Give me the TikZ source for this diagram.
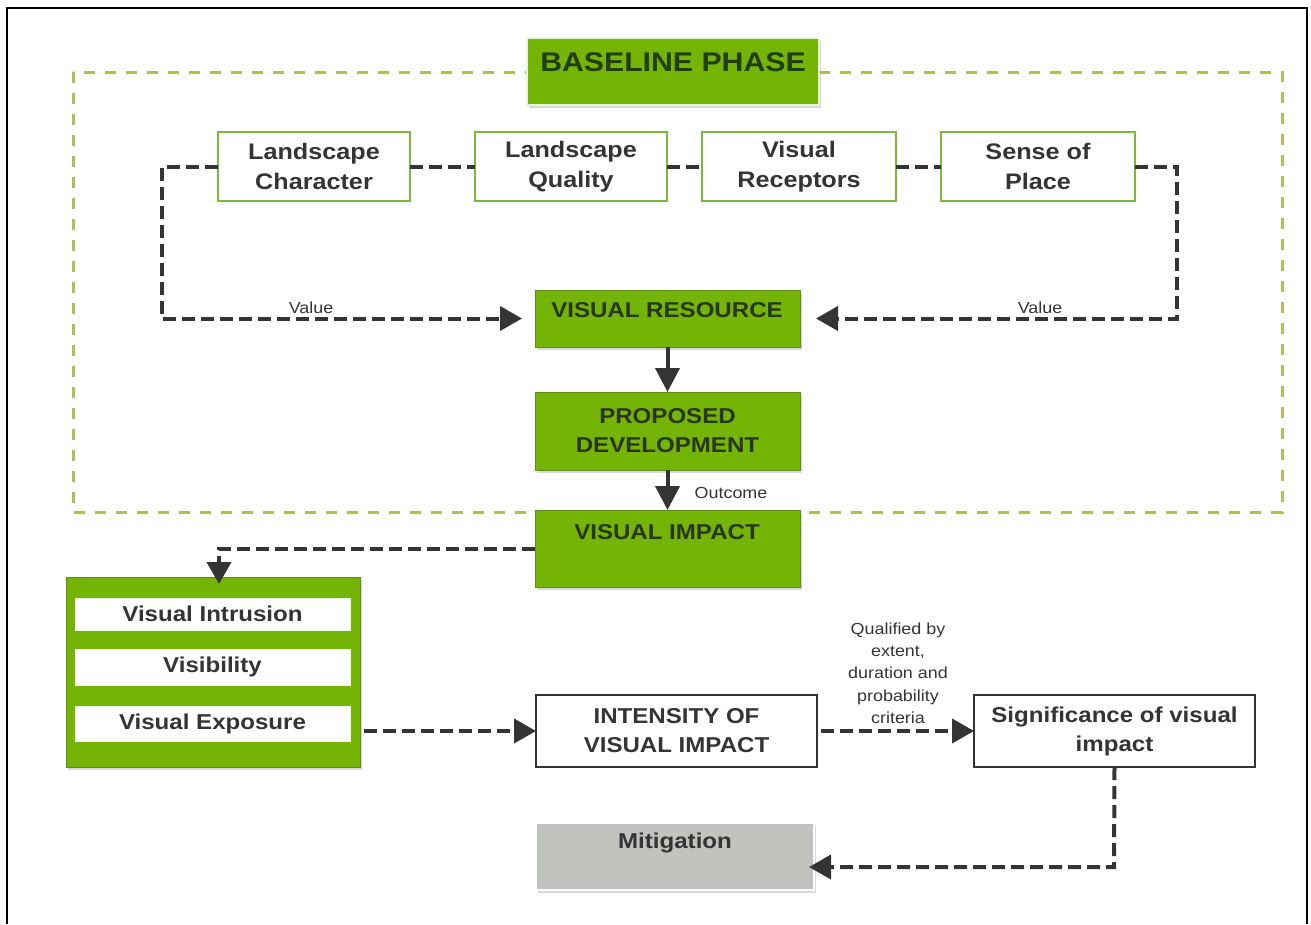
\documentclass[tikz,border=0pt]{standalone}
\usepackage{fontspec}
\setmainfont[FakeStretch=1.12]{Liberation Sans}
\usetikzlibrary{arrows.meta,shadows}
\definecolor{gfill}{RGB}{116,180,4}
\definecolor{gedge}{RGB}{92,142,22}
\definecolor{gline}{RGB}{124,184,62}
\definecolor{gdash}{RGB}{172,194,86}
\definecolor{dk}{RGB}{52,52,52}
\definecolor{gtxt}{RGB}{40,54,30}
\definecolor{bptxt}{RGB}{34,62,14}
\definecolor{mgrey}{RGB}{192,195,190}
\begin{document}
\begin{tikzpicture}[x=1pt,y=-1pt,
  every node/.style={inner sep=0pt,outer sep=0pt},
  shad/.style={drop shadow={shadow xshift=2pt,shadow yshift=-3pt,opacity=0.3}},
  gbox/.style={anchor=north west,fill=gfill,draw=gedge,line width=1pt,shad},
  wbox/.style={anchor=north west,fill=white,draw=gline,line width=2.5pt},
  ibox/.style={anchor=north west,fill=white,draw=white!90!gfill,line width=1pt},
  kbox/.style={anchor=north west,fill=white,draw=dk,line width=1.6pt},
  mbox/.style={anchor=north west,fill=mgrey,draw=white,line width=2pt,shad},
  big/.style={font=\fontsize{21.5}{29}\selectfont\bfseries},
  topt/.style={font=\fontsize{22.5}{30}\selectfont\bfseries,text=dk,align=center},
  gt/.style={big,text=gtxt,align=center},
  bt/.style={big,text=dk,align=center},
  small/.style={font=\fontsize{16}{22.3}\selectfont,text=dk,align=center},
  conn/.style={draw=dk,line width=4pt,dash pattern=on 13pt off 6pt},
  arr/.style={-{Triangle[length=22pt,width=24pt]}},
  sarr/.style={draw=dk,line width=4pt,-{Triangle[length=24pt,width=24pt]}}
]
\useasboundingbox (0,0) rectangle (1311,924);
% outer frame
\draw[line width=2pt,black] (7,924) -- (7,8) -- (1307,8) -- (1307,924);
% baseline phase dashed frame
\draw[gdash,line width=3pt,dash pattern=on 11pt off 10pt] (73,72) rectangle (1282,512);

% baseline header
\node[gbox,draw=white!85!gfill,line width=2pt,minimum width=292,minimum height=67] (bp) at (527,38) {};
\node[font=\fontsize{27}{32}\selectfont\bfseries,text=bptxt] (bpt) at (673,62) {BASELINE PHASE};

% top row
\node[wbox,minimum width=192,minimum height=69,topt] (lc) at (218,132) {Landscape\\Character};
\node[wbox,minimum width=192,minimum height=69,topt] (lq) at (475,132) {Landscape\\Quality};
\node[wbox,minimum width=194,minimum height=69,topt] (vrc) at (702,132) {Visual\\Receptors};
\node[wbox,minimum width=194,minimum height=69,topt] (sp) at (941,132) {Sense of\\Place};

% central column
\node[gbox,minimum width=265,minimum height=57] (vr) at (535,290) {};
\node[gt] (vrt) at (667,310) {VISUAL RESOURCE};
\node[gbox,minimum width=265,minimum height=78,gt] (pd) at (535,392) {PROPOSED\\DEVELOPMENT};
\node[gbox,minimum width=265,minimum height=77] (vi) at (535,510) {};
\node[gt] (vit) at (667,532) {VISUAL IMPACT};

% left green group
\node[gbox,minimum width=294,minimum height=190] (lb) at (66,577) {};
\node[ibox,minimum width=275,minimum height=32,bt] (vin) at (75,598) {Visual Intrusion};
\node[ibox,minimum width=275,minimum height=36,bt] (vis) at (75,649) {Visibility};
\node[ibox,minimum width=275,minimum height=35,bt] (vex) at (75,706) {Visual Exposure};

% lower row
\node[kbox,minimum width=281,minimum height=72,bt] (int) at (536,695) {INTENSITY OF\\VISUAL IMPACT};
\node[kbox,minimum width=281,minimum height=72,bt] (sig) at (974,695) {Significance of visual\\impact};
\node[mbox,minimum width=278,minimum height=67] (mit) at (536,823) {};
\node[bt] (mitt) at (675,843) {Mitigation};

% labels
\node[small] (val1) at (311,308) {Value};
\node[small] (val2) at (1040,308) {Value};
\node[small] (out) at (731,493) {Outcome};
\node[small] (qual) at (898,673) {Qualified by\\extent,\\duration and\\probability\\criteria};

% connectors
\coordinate (cl) at (162,0);
\coordinate (cr) at (1177,0);
\coordinate (mc) at (1114,867);
\draw[conn] (lc.east) -- (lq.west);
\draw[conn] (lq.east) -- (vrc.west);
\draw[conn] (vrc.east) -- (sp.west);
\draw[conn,arr,shorten >=13pt] (lc.west) -| (cl |- vr.west) -- (vr.west);
\draw[conn,arr,shorten >=16pt] (sp.east) -| (cr |- vr.east) -- (vr.east);
\draw[sarr] (vr.south) -- (pd.north);
\draw[sarr] (pd.south) -- (vi.north);
\draw[conn,arr] (vi.west) -| ([xshift=6pt,yshift=-7pt]lb.north);
\draw[conn,arr,shorten <=4pt] (int.west -| lb.east) -- (int.west);
\draw[conn,arr,shorten <=4pt] (int.east) -- (sig.west);
\draw[conn,arr,shorten >=-5pt] (sig.south) -- (mc) -- (mc -| mit.east);
\end{tikzpicture}
\end{document}
